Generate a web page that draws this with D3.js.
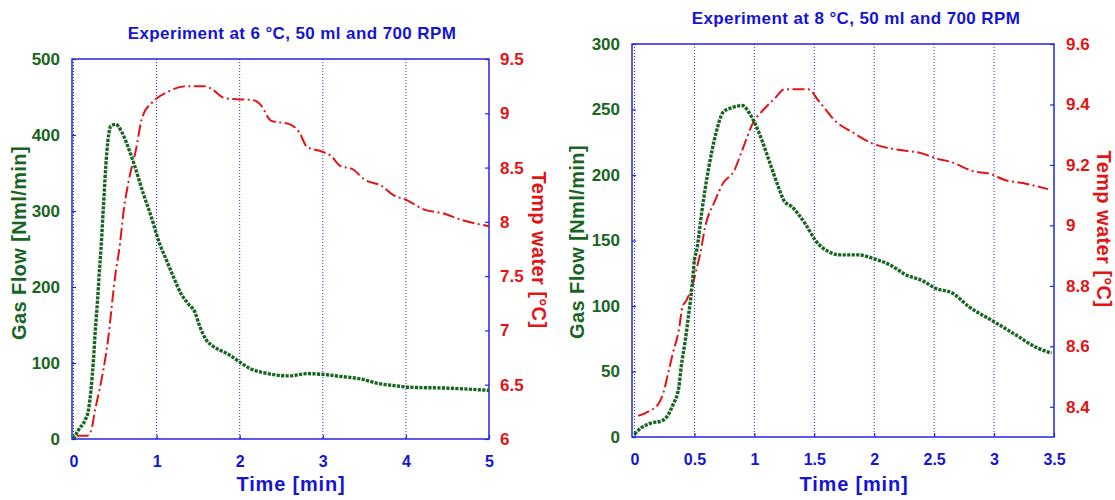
<!DOCTYPE html>
<html>
<head>
<meta charset="utf-8">
<script src="https://cdn.jsdelivr.net/npm/d3@7"></script>
<style>
  html, body { margin: 0; padding: 0; background: #fff; }
  svg text { font-family: "Liberation Sans", Arial, Helvetica, sans-serif; font-weight: bold; }
</style>
</head>
<body>
<svg id="chart" width="1115" height="500"></svg>
<script>
// ---------- Data: experiment at 6 °C ----------
const gasTime1 = [0, 0.06, 0.14, 0.18, 0.21, 0.24, 0.26, 0.29, 0.31, 0.33, 0.36, 0.40, 0.45, 0.51, 0.58, 0.70, 0.84, 0.96, 1.02, 1.12, 1.20, 1.30, 1.38, 1.46, 1.52, 1.60, 1.68, 1.76, 1.87, 1.99, 2.12, 2.34, 2.60, 2.81, 3.00, 3.24, 3.46, 3.67, 3.88, 4.06, 4.48, 5.00];
const gasFlow1 = [0, 12, 25, 38, 64, 104, 139, 183, 218, 249, 306, 376, 412, 414, 404, 371, 323, 284, 262, 235, 214, 190, 178, 167, 148, 130, 122, 117, 111, 102, 93, 86, 83, 86, 85, 82, 79, 73, 70, 68, 67, 64];
const tempTime1 = [0.04, 0.16, 0.21, 0.26, 0.32, 0.36, 0.42, 0.46, 0.50, 0.56, 0.60, 0.66, 0.75, 0.83, 0.96, 1.14, 1.35, 1.57, 1.65, 1.82, 1.96, 2.17, 2.25, 2.38, 2.60, 2.72, 2.81, 2.98, 3.11, 3.20, 3.37, 3.50, 3.71, 3.84, 4.01, 4.23, 4.44, 4.66, 5.00];
const tempWater1 = [6.03, 6.03, 6.07, 6.27, 6.48, 6.64, 6.94, 7.22, 7.49, 7.80, 8.08, 8.36, 8.66, 8.97, 9.11, 9.20, 9.25, 9.25, 9.23, 9.14, 9.13, 9.12, 9.08, 8.93, 8.90, 8.82, 8.69, 8.65, 8.60, 8.52, 8.48, 8.39, 8.33, 8.25, 8.20, 8.11, 8.08, 8.02, 7.96];
const xTicks1 = [0, 1, 2, 3, 4, 5];
const gasTicks1 = [0, 100, 200, 300, 400, 500];
const tempTicks1 = [6, 6.5, 7, 7.5, 8, 8.5, 9, 9.5];
const title1 = "Experiment at 6 °C, 50 ml and 700 RPM";

// ---------- Data: experiment at 8 °C ----------
const gasTime2 = [0, 0.05, 0.13, 0.23, 0.28, 0.32, 0.37, 0.39, 0.42, 0.45, 0.48, 0.50, 0.52, 0.56, 0.62, 0.68, 0.74, 0.80, 0.90, 0.96, 1.04, 1.13, 1.20, 1.25, 1.31, 1.43, 1.51, 1.63, 1.72, 1.87, 2.00, 2.14, 2.26, 2.41, 2.51, 2.65, 2.79, 3.00, 3.18, 3.36, 3.48];
const gasFlow2 = [2, 6.6, 10.4, 12.4, 16.8, 24.4, 38, 54, 71.5, 92, 115, 135, 143, 171, 206, 232, 248, 251, 253, 247, 232, 209, 191, 180, 176, 162, 150, 141, 139, 139, 136, 131, 124, 119, 113.5, 110, 99.5, 88, 78, 68, 64];
const tempTime2 = [0.03, 0.115, 0.20, 0.24, 0.28, 0.32, 0.37, 0.40, 0.43, 0.48, 0.52, 0.55, 0.59, 0.67, 0.74, 0.83, 0.90, 0.99, 1.07, 1.17, 1.25, 1.45, 1.54, 1.69, 1.81, 1.99, 2.20, 2.38, 2.53, 2.64, 2.82, 2.97, 3.09, 3.24, 3.45];
const tempWater2 = [8.37, 8.384, 8.41, 8.445, 8.51, 8.577, 8.654, 8.73, 8.75, 8.797, 8.86, 8.91, 8.996, 9.08, 9.14, 9.18, 9.25, 9.34, 9.38, 9.42, 9.45, 9.45, 9.41, 9.34, 9.31, 9.27, 9.25, 9.24, 9.22, 9.21, 9.18, 9.17, 9.15, 9.14, 9.12];
const xTicks2 = [0, 0.5, 1, 1.5, 2, 2.5, 3, 3.5];
const gasTicks2 = [0, 50, 100, 150, 200, 250, 300];
const tempTicks2 = [8.4, 8.6, 8.8, 9, 9.2, 9.4, 9.6];
const title2 = "Experiment at 8 °C, 50 ml and 700 RPM";

const xLabel = "Time [min]";
const gasLabel = "Gas Flow [Nml/min]";
const tempLabel = "Temp water [°C]";

// ---------- Styles ----------
const BLUE = "#1414d6";
const FRAME = "#2323e8";
const GREEN = "#17661f";
const RED = "#e31414";

const svg = d3.select("#chart");
svg.append("rect").attr("width", 1115).attr("height", 500).attr("fill", "#fff");

function drawPanel(cfg) {
  const x = d3.scaleLinear().domain(cfg.xDomain).range([cfg.x0, cfg.fR]);
  const yL = d3.scaleLinear().domain(cfg.gasDomain).range([cfg.fB, cfg.fT]);
  const yR = d3.scaleLinear().domain(cfg.tempDomain).range([cfg.fB, cfg.fT]);

  const g = svg.append("g");

  // vertical dotted grid
  g.append("g").selectAll("line")
    .data(cfg.xTicks.filter(t => x(t) < cfg.fR - 1))
    .join("line")
    .attr("x1", d => x(d)).attr("x2", d => x(d))
    .attr("y1", cfg.fT).attr("y2", cfg.fB)
    .attr("stroke", FRAME).attr("stroke-width", 1)
    .attr("stroke-dasharray", "1 2");

  // axes
  const ax = g.append("g").attr("transform", `translate(0,${cfg.fB})`)
    .call(d3.axisBottom(x).tickValues(cfg.xTicks).tickSize(-4).tickSizeOuter(0).tickPadding(17)
      .tickFormat(d3.format("~g")));
  ax.selectAll("text").attr("fill", BLUE).attr("font-size", 16);

  const al = g.append("g").attr("transform", `translate(${cfg.fL},0)`)
    .call(d3.axisLeft(yL).tickValues(cfg.gasTicks).tickSize(-4).tickSizeOuter(0).tickPadding(12));
  al.selectAll("text").attr("fill", GREEN).attr("font-size", 17);

  const ar = g.append("g").attr("transform", `translate(${cfg.fR},0)`)
    .call(d3.axisRight(yR).tickValues(cfg.tempTicks).tickSize(-4).tickSizeOuter(0).tickPadding(cfg.rPad)
      .tickFormat(d3.format("~g")));
  ar.selectAll("text").attr("fill", RED).attr("font-size", 17);

  [ax, al, ar].forEach(a => {
    a.select(".domain").remove();
    a.selectAll(".tick line").attr("stroke", FRAME).attr("stroke-width", 1.2);
    a.attr("font-family", null).attr("font-size", null);
  });

  // frame
  g.append("rect")
    .attr("x", cfg.fL).attr("y", cfg.fT)
    .attr("width", cfg.fR - cfg.fL).attr("height", cfg.fB - cfg.fT)
    .attr("fill", "none").attr("stroke", FRAME).attr("stroke-width", 1.5);

  // temperature line (red dash-dot)
  const tempData = cfg.tempTime.map((t, i) => [t, cfg.tempWater[i]]);
  g.append("path").datum(tempData)
    .attr("fill", "none").attr("stroke", RED).attr("stroke-width", 2)
    .attr("stroke-dasharray", "12 3.5 2 3.5")
    .attr("d", d3.line().x(d => x(d[0])).y(d => yR(d[1])).curve(d3.curveMonotoneX));

  // gas flow line (green dotted)
  const gasData = cfg.gasTime.map((t, i) => [t, cfg.gasFlow[i]]);
  g.append("path").datum(gasData)
    .attr("fill", "none").attr("stroke", GREEN).attr("stroke-width", 3.4)
    .attr("stroke-dasharray", "3.2 1.3")
    .attr("d", d3.line().x(d => x(d[0])).y(d => yL(d[1])).curve(d3.curveMonotoneX));

  // texts
  g.append("text").text(cfg.title)
    .attr("x", cfg.titleX).attr("y", cfg.titleY)
    .attr("text-anchor", "middle").attr("fill", BLUE)
    .attr("font-size", 17).attr("letter-spacing", 0.4);

  g.append("text").text(xLabel)
    .attr("x", cfg.xLabX).attr("y", cfg.xLabY)
    .attr("text-anchor", "middle").attr("fill", BLUE)
    .attr("font-size", 20).attr("letter-spacing", 0.8);

  g.append("text").text(gasLabel)
    .attr("transform", `translate(${cfg.gasLabX},${cfg.gasLabY}) rotate(-90)`)
    .attr("text-anchor", "middle").attr("fill", GREEN)
    .attr("font-size", 20).attr("letter-spacing", 0.4);

  g.append("text").text(tempLabel)
    .attr("transform", `translate(${cfg.tempLabX},${cfg.tempLabY}) rotate(90)`)
    .attr("text-anchor", "middle").attr("fill", RED)
    .attr("font-size", 20).attr("letter-spacing", 0.4);
}

drawPanel({
  fL: 72, fR: 489, fT: 59, fB: 439, x0: 73.5,
  xDomain: [0, 5], gasDomain: [0, 500], tempDomain: [6, 9.5],
  xTicks: xTicks1, gasTicks: gasTicks1, tempTicks: tempTicks1, rPad: 11,
  gasTime: gasTime1, gasFlow: gasFlow1, tempTime: tempTime1, tempWater: tempWater1,
  title: title1, titleX: 292, titleY: 39,
  xLabX: 291, xLabY: 491,
  gasLabX: 26, gasLabY: 243,
  tempLabX: 532, tempLabY: 250
});

drawPanel({
  fL: 632, fR: 1054, fT: 44, fB: 437, x0: 634.5,
  xDomain: [0, 3.5], gasDomain: [0, 300], tempDomain: [8.3, 9.6],
  xTicks: xTicks2, gasTicks: gasTicks2, tempTicks: tempTicks2, rPad: 12,
  gasTime: gasTime2, gasFlow: gasFlow2, tempTime: tempTime2, tempWater: tempWater2,
  title: title2, titleX: 856, titleY: 24,
  xLabX: 854, xLabY: 491,
  gasLabX: 584, gasLabY: 242,
  tempLabX: 1097, tempLabY: 229
});
</script>
</body>
</html>
